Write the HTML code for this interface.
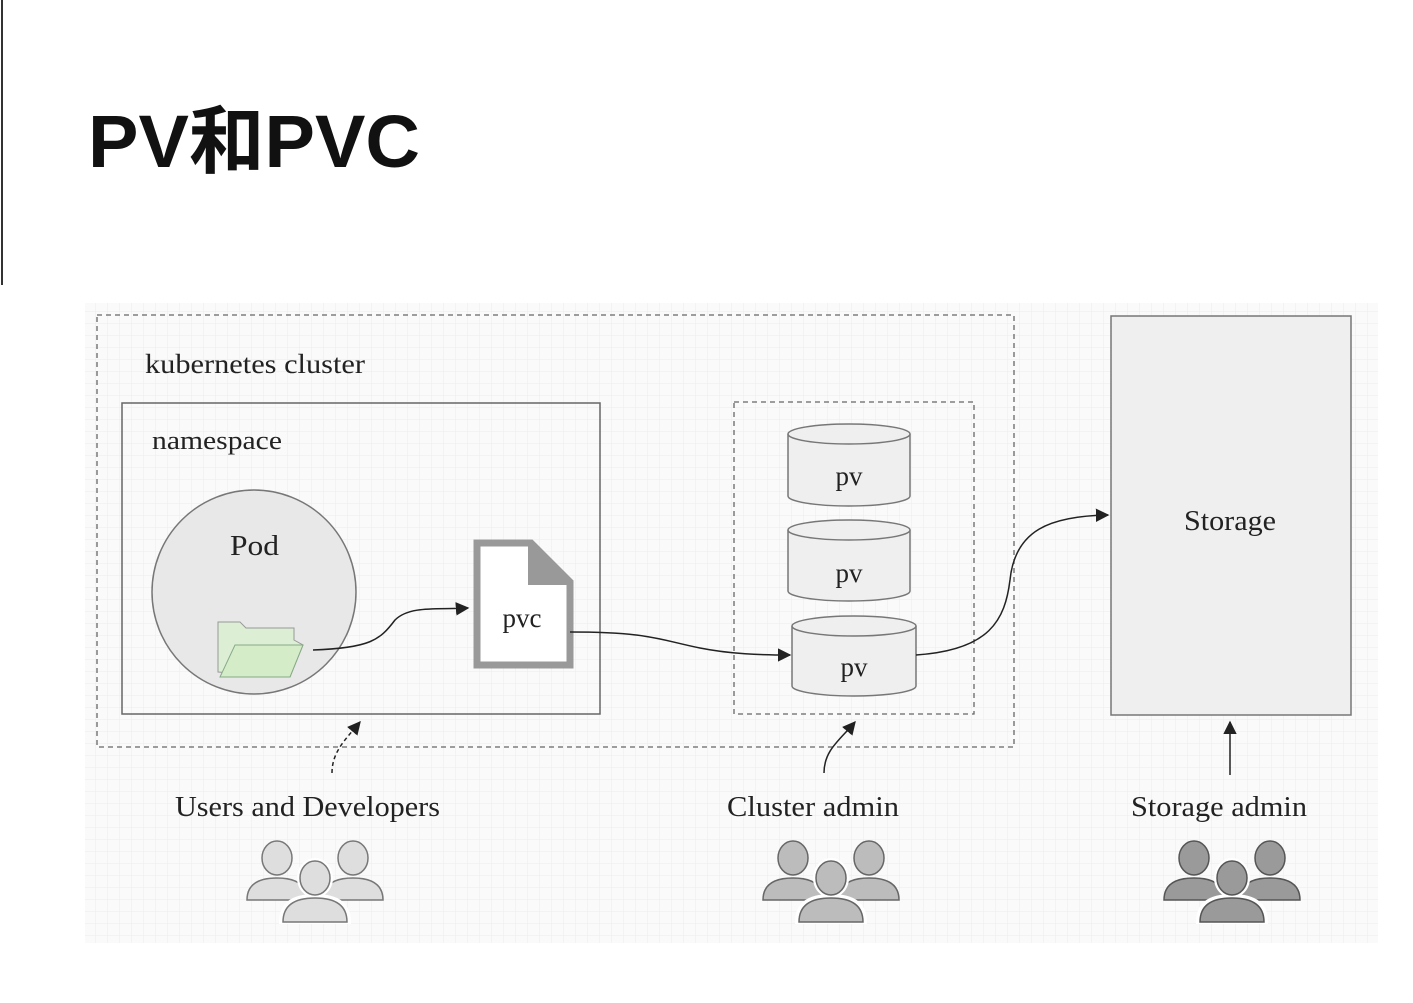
<!DOCTYPE html>
<html><head><meta charset="utf-8"><style>
html,body{margin:0;padding:0;background:#fff;}
svg{display:block}
.s{font-family:"Liberation Serif","DejaVu Serif",serif;fill:#222}
</style></head><body>
<svg width="1413" height="1003" viewBox="0 0 1413 1003" xmlns="http://www.w3.org/2000/svg">
<defs>
<pattern id="g" width="12" height="12" patternUnits="userSpaceOnUse">
<rect width="12" height="12" fill="#fafafa"/>
<path d="M12 0V12M0 12H12" stroke="#ececec" stroke-width="1"/>
</pattern>
<marker id="a" viewBox="0 0 10 10" refX="9" refY="5" markerWidth="9" markerHeight="9" orient="auto"><path d="M0 0L10 5L0 10z" fill="#222"/></marker>
<g id="pp">
<ellipse cx="-38" cy="-32" rx="15" ry="17"/>
<path d="M-68 10 Q-68 -12 -38 -12 Q-8 -12 -8 10 Z"/>
<ellipse cx="38" cy="-32" rx="15" ry="17"/>
<path d="M8 10 Q8 -12 38 -12 Q68 -12 68 10 Z"/>
<ellipse cx="0" cy="-12" rx="16" ry="18" stroke="#fff" stroke-width="4"/>
<path d="M-34 32 Q-34 6 0 6 Q34 6 34 32 Z" stroke="#fff" stroke-width="4"/>
<ellipse cx="0" cy="-12" rx="15" ry="17"/>
<path d="M-32 32 Q-32 8 0 8 Q32 8 32 32 Z"/>
</g>
</defs>
<line x1="2" y1="0" x2="2" y2="285" stroke="#333" stroke-width="2"/>
<text x="88" y="167" font-family="Liberation Sans,'Noto Sans CJK SC',sans-serif" font-weight="bold" font-size="74" fill="#111" textLength="332" lengthAdjust="spacingAndGlyphs">PV和PVC</text>
<rect x="85" y="303" width="1293" height="640" fill="url(#g)"/>
<rect x="97" y="315" width="917" height="432" fill="none" stroke="#666" stroke-dasharray="5,4" stroke-width="1.3"/>
<text x="145" y="373" class="s" font-size="27" textLength="220" lengthAdjust="spacingAndGlyphs">kubernetes cluster</text>
<rect x="122" y="403" width="478" height="311" fill="none" stroke="#666" stroke-width="1.5"/>
<text x="152" y="449" class="s" font-size="26" textLength="130" lengthAdjust="spacingAndGlyphs">namespace</text>
<circle cx="254" cy="592" r="102" fill="#e8e8e8" stroke="#777" stroke-width="1.5"/>
<text x="230" y="555" class="s" font-size="29" textLength="49" lengthAdjust="spacingAndGlyphs">Pod</text>
<path d="M218 672 L218 622 L240 622 L246 628 L294 628 L294 640 L303 645 L290 677 Z" fill="#dcefd4" stroke="#999" stroke-width="1"/>
<path d="M235 645 L303 645 L290 677 L220 677 Z" fill="#d5ecc9" stroke="#8a8" stroke-width="1"/>
<path d="M313 650 C370 648 380 640 395 620 C410 605 440 610 468 608" fill="none" stroke="#222" stroke-width="1.5" marker-end="url(#a)"/>
<path d="M477 543 L531 543 L570 582 L570 665 L477 665 Z" fill="#fff" stroke="#999" stroke-width="7"/>
<path d="M531 543 L531 582 L570 582" fill="#999" stroke="#999" stroke-width="6"/>
<text x="522" y="627" class="s" font-size="27" text-anchor="middle">pvc</text>
<rect x="734" y="402" width="240" height="312" fill="none" stroke="#666" stroke-dasharray="5,4" stroke-width="1.3"/>
<g fill="#efefef" stroke="#777" stroke-width="1.5">
<path d="M788 434 V496 A61 10 0 0 0 910 496 V434"/><ellipse cx="849" cy="434" rx="61" ry="10"/>
<path d="M788 530 V591 A61 10 0 0 0 910 591 V530"/><ellipse cx="849" cy="530" rx="61" ry="10"/>
<path d="M792 626 V686 A62 10 0 0 0 916 686 V626"/><ellipse cx="854" cy="626" rx="62" ry="10"/>
</g>
<text x="849" y="485" class="s" font-size="27" text-anchor="middle">pv</text>
<text x="849" y="582" class="s" font-size="27" text-anchor="middle">pv</text>
<text x="854" y="676" class="s" font-size="27" text-anchor="middle">pv</text>
<path d="M570 632 C650 632 660 640 700 648 C730 654 760 655 790 655" fill="none" stroke="#222" stroke-width="1.5" marker-end="url(#a)"/>
<path d="M916 655 C990 650 1005 620 1010 580 C1015 530 1050 516 1108 515" fill="none" stroke="#222" stroke-width="1.5" marker-end="url(#a)"/>
<rect x="1111" y="316" width="240" height="399" fill="#efefef" stroke="#777" stroke-width="1.5"/>
<text x="1184" y="530" class="s" font-size="29" textLength="92" lengthAdjust="spacingAndGlyphs">Storage</text>
<path d="M332 773 C332 752 345 740 360 722" fill="none" stroke="#222" stroke-width="1.5" stroke-dasharray="4,3" marker-end="url(#a)"/>
<path d="M824 773 C824 750 840 740 855 722" fill="none" stroke="#222" stroke-width="1.5" marker-end="url(#a)"/>
<path d="M1230 775 L1230 722" fill="none" stroke="#222" stroke-width="1.5" marker-end="url(#a)"/>
<text x="175" y="816" class="s" font-size="29" textLength="265" lengthAdjust="spacingAndGlyphs">Users and Developers</text>
<text x="727" y="816" class="s" font-size="29" textLength="172" lengthAdjust="spacingAndGlyphs">Cluster admin</text>
<text x="1131" y="816" class="s" font-size="29" textLength="176" lengthAdjust="spacingAndGlyphs">Storage admin</text>
<use href="#pp" x="315" y="890" fill="#dedede" stroke="#777" stroke-width="1.5"/>
<use href="#pp" x="831" y="890" fill="#bcbcbc" stroke="#666" stroke-width="1.5"/>
<use href="#pp" x="1232" y="890" fill="#9a9a9a" stroke="#555" stroke-width="1.5"/>
</svg>
</body></html>
